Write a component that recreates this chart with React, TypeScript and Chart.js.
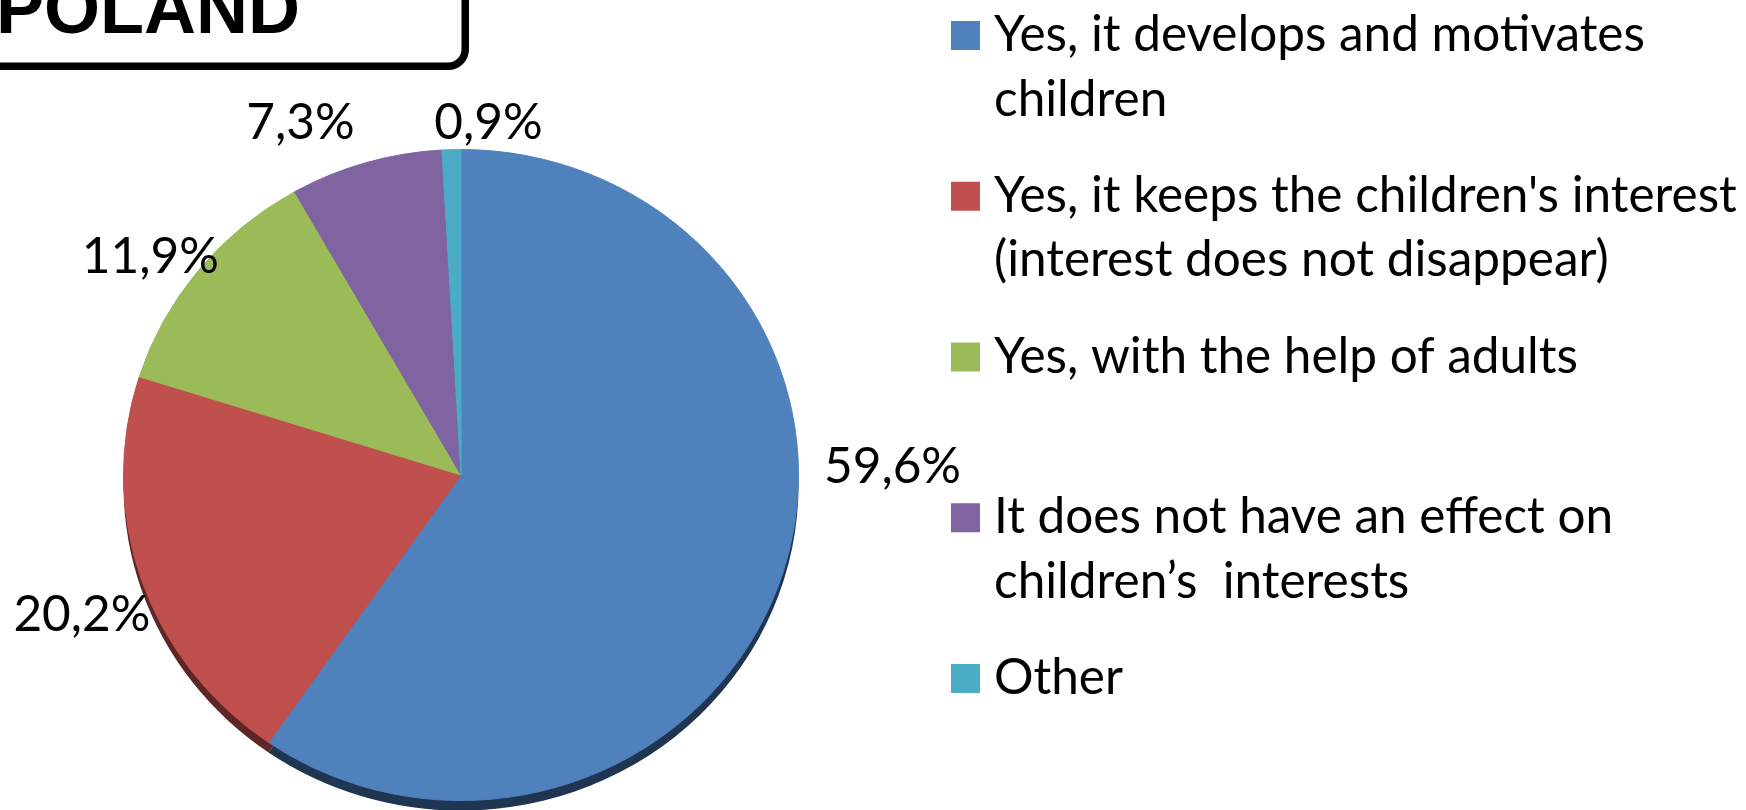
import React, { useEffect, useRef } from 'react';
import { Chart, registerables } from 'chart.js';

Chart.register(...registerables);

// ---------- data ----------
const TITLE = 'POLAND';
const categories = [
  'Yes, it develops and motivates children',
  "Yes, it keeps the children's interest (interest does not disappear)",
  'Yes, with the help of adults',
  'It does not have an effect on children’s  interests',
  'Other',
];
const values = [59.6, 20.2, 11.9, 7.3, 0.9];
const valueLabels = values.map((v) => v.toFixed(1).replace('.', ',') + '%');

// ---------- style ----------
const colors = ['#4F81BD', '#C0504D', '#9BBB59', '#8064A2', '#4BACC6'];
const sideColors = ['#1F3552', '#5E2624', '#4B5C2B', '#3E3151', '#245564'];
// data label anchor (text centre x, baseline y) relative to pie centre, in radii
const labelOffsets = [
  [1.2766, 0.0118],
  [-1.1216, 0.4497],
  [-0.9192, -0.6095],
  [-0.4749, -1.0059],
  [0.0814, -1.0059],
];

const W = 1746;
const H = 810;
const CANVAS_H = 830;
const Y_SCALE = 0.9645;
const DEPTH = 10;
const TEXT_SHIFT = 4;
const FONT_FAMILY = 'Lato, "Open Sans", sans-serif';
const LEGEND = { squareX: 951, squareSize: 29, textX: 994, firstBaseline: 47, step: 160.75, lineH: 64.6, maxW: 752, refLine: "Yes, it keeps the children's interest", refW: 743 };

function wrap(ctx: CanvasRenderingContext2D, text: string, maxW: number): string[] {
  const words = text.split(' ');
  const lines: string[] = [];
  let cur: string | null = null;
  for (const w of words) {
    const test = cur === null ? w : cur + ' ' + w;
    if (cur !== null && w !== '' && ctx.measureText(test).width > maxW) {
      lines.push(cur);
      cur = w;
    } else {
      cur = test;
    }
  }
  if (cur !== null) lines.push(cur);
  return lines;
}

const piePlugin = {
  id: 'pie3dAndDecor',
  beforeDatasetsDraw(chart: any) {
    const meta = chart.getDatasetMeta(0);
    const ctx: CanvasRenderingContext2D = chart.ctx;
    const first = meta.data[0];
    const cx = first.x;
    const cy = first.y;
    ctx.save();
    ctx.translate(cx, cy);
    ctx.scale(1, Y_SCALE);
    ctx.translate(-cx, -cy);
    const d = DEPTH / Y_SCALE;
    meta.data.forEach((arc: any, i: number) => {
      const p = arc.getProps(['startAngle', 'endAngle', 'outerRadius'], true);
      ctx.beginPath();
      ctx.moveTo(cx, cy + d);
      ctx.arc(cx, cy + d, p.outerRadius, p.startAngle, p.endAngle);
      ctx.closePath();
      ctx.fillStyle = sideColors[i];
      ctx.fill();
    });
  },
  afterDatasetsDraw(chart: any) {
    chart.ctx.restore();
  },
  afterDraw(chart: any) {
    const ctx: CanvasRenderingContext2D = chart.ctx;
    const meta = chart.getDatasetMeta(0);
    const first = meta.data[0];
    const cx = first.x;
    const cy = first.y;
    const R = first.outerRadius + 0.5;

    ctx.save();
    ctx.font = `100px ${FONT_FAMILY}`;
    const fs = (100 * LEGEND.refW) / ctx.measureText(LEGEND.refLine).width;
    ctx.font = `${fs}px ${FONT_FAMILY}`;
    ctx.fillStyle = '#000';
    ctx.textBaseline = 'alphabetic';

    // data labels
    ctx.textAlign = 'center';
    valueLabels.forEach((lab, i) => {
      const [ox, oy] = labelOffsets[i];
      ctx.fillText(lab, cx + ox * R, cy + oy * R + TEXT_SHIFT);
    });

    // legend
    ctx.textAlign = 'left';
    categories.forEach((cat, i) => {
      const base = LEGEND.firstBaseline + i * LEGEND.step;
      ctx.fillStyle = colors[i];
      ctx.fillRect(LEGEND.squareX, base - 26, LEGEND.squareSize, LEGEND.squareSize);
      ctx.fillStyle = '#000';
      wrap(ctx, cat, LEGEND.maxW).forEach((line, j) => {
        ctx.fillText(line, LEGEND.textX, base + TEXT_SHIFT + j * LEGEND.lineH);
      });
    });

    // title box
    ctx.lineWidth = 7.5;
    ctx.strokeStyle = '#000';
    ctx.beginPath();
    (ctx as any).roundRect(-40, -40, 465.25 + 40, 66.25 + 40, 17);
    ctx.stroke();
    ctx.font = 'bold 72px "Liberation Sans", Arial, sans-serif';
    ctx.fillText(TITLE, -4, 33);
    ctx.restore();
  },
};

export default function App() {
  const ref = useRef<HTMLCanvasElement | null>(null);
  useEffect(() => {
    if (!ref.current) return;
    const chart = new Chart(ref.current, {
      type: 'pie',
      data: {
        labels: categories,
        datasets: [
          {
            data: values,
            backgroundColor: colors,
            borderColor: colors,
            borderWidth: 1,
            clip: false as any,
          },
        ],
      },
      options: {
        responsive: false,
        animation: false,
        devicePixelRatio: 1,
        layout: { padding: { left: 123, right: W - 799, top: 137, bottom: CANVAS_H - 813 } },
        plugins: { legend: { display: false }, tooltip: { enabled: false }, title: { display: false } },
      },
      plugins: [piePlugin as any],
    });
    return () => chart.destroy();
  }, []);
  return (
    <div style={{ position: 'fixed', left: 0, top: 0, width: W, height: H, overflow: 'hidden', background: '#fff' }}>
      <canvas ref={ref} width={W} height={CANVAS_H} style={{ display: 'block', width: W, height: CANVAS_H }} />
    </div>
  );
}
